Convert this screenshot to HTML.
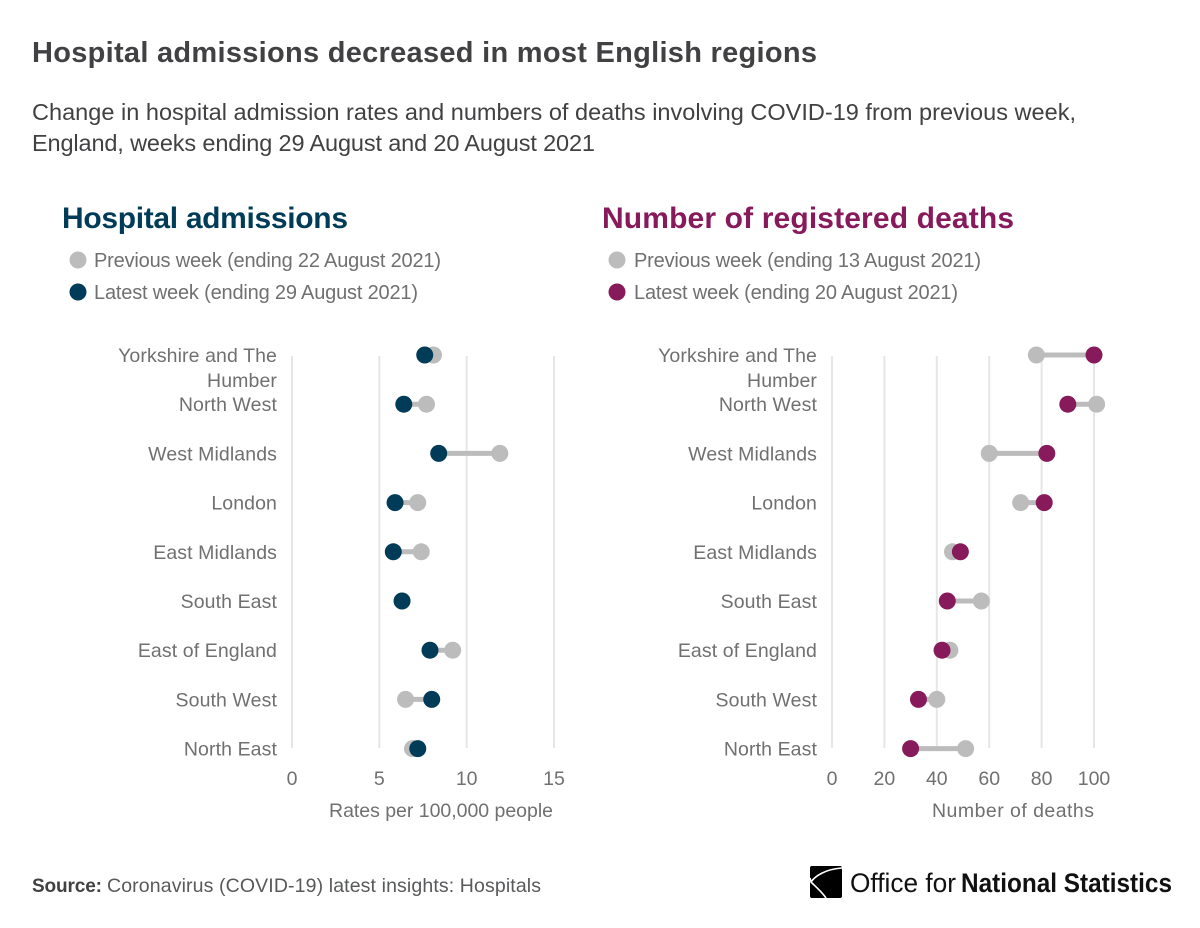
<!DOCTYPE html>
<html lang="en">
<head>
<meta charset="utf-8">
<title>Hospital admissions decreased in most English regions</title>
<style>
  html, body { margin: 0; padding: 0; background: #fff; }
  svg { display: block; font-family: "Liberation Sans", sans-serif; }
</style>
</head>
<body>
<svg id="chart" xmlns="http://www.w3.org/2000/svg" width="1200" height="928" viewBox="0 0 1200 928">
  <rect width="1200" height="928" fill="#fff"/>
  <text x="32" y="62" font-size="29" font-weight="bold" fill="#414042" textLength="785" lengthAdjust="spacing">Hospital admissions decreased in most English regions</text>
  <text x="32" y="120" font-size="23.5" fill="#414042" textLength="1044" lengthAdjust="spacing">Change in hospital admission rates and numbers of deaths involving COVID-19 from previous week,</text>
  <text x="32" y="151" font-size="23.5" fill="#414042" textLength="563" lengthAdjust="spacing">England, weeks ending 29 August and 20 August 2021</text>

  <text x="62" y="228" font-size="30" font-weight="bold" fill="#003c57" textLength="286" lengthAdjust="spacing">Hospital admissions</text>
  <circle cx="78" cy="260" r="8.5" fill="#bcbcbd"/>
  <text x="94" y="267" font-size="20" fill="#707071" textLength="347" lengthAdjust="spacing">Previous week (ending 22 August 2021)</text>
  <circle cx="78" cy="292" r="8.5" fill="#003c57"/>
  <text x="94" y="299" font-size="20" fill="#707071" textLength="324" lengthAdjust="spacing">Latest week (ending 29 August 2021)</text>

  <text x="602" y="228" font-size="30" font-weight="bold" fill="#871a5b" textLength="412" lengthAdjust="spacing">Number of registered deaths</text>
  <circle cx="617" cy="260" r="8.5" fill="#bcbcbd"/>
  <text x="634" y="267" font-size="20" fill="#707071" textLength="347" lengthAdjust="spacing">Previous week (ending 13 August 2021)</text>
  <circle cx="617" cy="292" r="8.5" fill="#871a5b"/>
  <text x="634" y="299" font-size="20" fill="#707071" textLength="324" lengthAdjust="spacing">Latest week (ending 20 August 2021)</text>

  <g id="hospital-panel"></g>
  <g id="deaths-panel"></g>

  <text x="329" y="817" font-size="19.5" fill="#707071" textLength="224" lengthAdjust="spacing">Rates per 100,000 people</text>
  <text x="932" y="817" font-size="19.5" fill="#707071" textLength="162" lengthAdjust="spacing">Number of deaths</text>

  <text x="32" y="892" font-size="19" font-weight="bold" fill="#414042" textLength="70" lengthAdjust="spacing">Source:</text>
  <text x="107" y="892" font-size="19.5" fill="#58595b" textLength="434" lengthAdjust="spacing">Coronavirus (COVID-19) latest insights: Hospitals</text>

  <g>
    <rect x="810" y="866" width="32" height="32" rx="2" fill="#000"/>
    <path d="M842 868 C826 869 815 876 811 882 C815 886 822 892 826 898 M811 882 L810 878" fill="none" stroke="#fff" stroke-width="1.6"/>
    <text x="850" y="892" font-size="27" fill="#111" textLength="106" lengthAdjust="spacingAndGlyphs">Office for</text>
    <text x="961" y="892" font-size="27" font-weight="bold" fill="#111" textLength="211" lengthAdjust="spacingAndGlyphs">National Statistics</text>
  </g>
</svg>
<script>
var categories = ["Yorkshire and The Humber", "North West", "West Midlands", "London", "East Midlands", "South East", "East of England", "South West", "North East"];
var hospitalPrevious = [8.1, 7.7, 11.9, 7.2, 7.4, 6.3, 9.2, 6.5, 6.9];
var hospitalLatest = [7.6, 6.4, 8.4, 5.9, 5.8, 6.3, 7.9, 8.0, 7.2];
var hospitalTicks = [0, 5, 10, 15];
var deathsPrevious = [78, 101, 60, 72, 46, 57, 45, 40, 51];
var deathsLatest = [100, 90, 82, 81, 49, 44, 42, 33, 30];
var deathsTicks = [0, 20, 40, 60, 80, 100];

var NS = "http://www.w3.org/2000/svg";
var TOP_ROW = 355, ROW_STEP = 49.2, AXIS_BOTTOM = 748;

function yScale(index) {
  return TOP_ROW + index * ROW_STEP;
}
function linearScale(domainMax, x0, x1) {
  return function (v) { return x0 + (v / domainMax) * (x1 - x0); };
}
function make(parent, tag, attrs, text) {
  var el = document.createElementNS(NS, tag);
  for (var k in attrs) { el.setAttribute(k, attrs[k]); }
  if (text !== undefined) { el.textContent = text; }
  parent.appendChild(el);
  return el;
}
function wrapLabel(label) {
  if (label.length <= 18) { return [label]; }
  var words = label.split(" ");
  var last = words.pop();
  return [words.join(" "), last];
}

function drawPanel(groupId, prefix, prev, latest, ticks, xScale, labelX, color) {
  var g = document.getElementById(groupId);
  ticks.forEach(function (t) {
    var grid = make(g, "line", { x1: xScale(t), x2: xScale(t), y1: TOP_ROW + 1, y2: AXIS_BOTTOM, stroke: "#e6e6e7", "stroke-width": 2 });
    
    
    var tick = make(g, "text", { x: xScale(t), y: 785, "text-anchor": "middle", "font-size": 19.5, fill: "#707071" }, String(t));
    
    
  });
  categories.forEach(function (name, i) {
    var y = yScale(i);
    wrapLabel(name).forEach(function (line, j) {
      var label = make(g, "text", { x: labelX, y: y + 7 + j * 25, "text-anchor": "end", "font-size": 19.5, "letter-spacing": 0.1, fill: "#707071" }, line);
      
      
    });
    var connector = make(g, "line", { x1: xScale(prev[i]), x2: xScale(latest[i]), y1: y, y2: y, stroke: "#bcbcbd", "stroke-width": 5 });
    
    
    var prevDot = make(g, "circle", { cx: xScale(prev[i]), cy: y, r: 8.5, fill: "#bcbcbd" });
    
    
    var latestDot = make(g, "circle", { cx: xScale(latest[i]), cy: y, r: 8.5, fill: color });
    
    
  });
}

drawPanel("hospital-panel", "hospital", hospitalPrevious, hospitalLatest, hospitalTicks, linearScale(15, 292, 554), 277, "#003c57");
drawPanel("deaths-panel", "deaths", deathsPrevious, deathsLatest, deathsTicks, linearScale(100, 832, 1094), 817, "#871a5b");
</script>
</body>
</html>
